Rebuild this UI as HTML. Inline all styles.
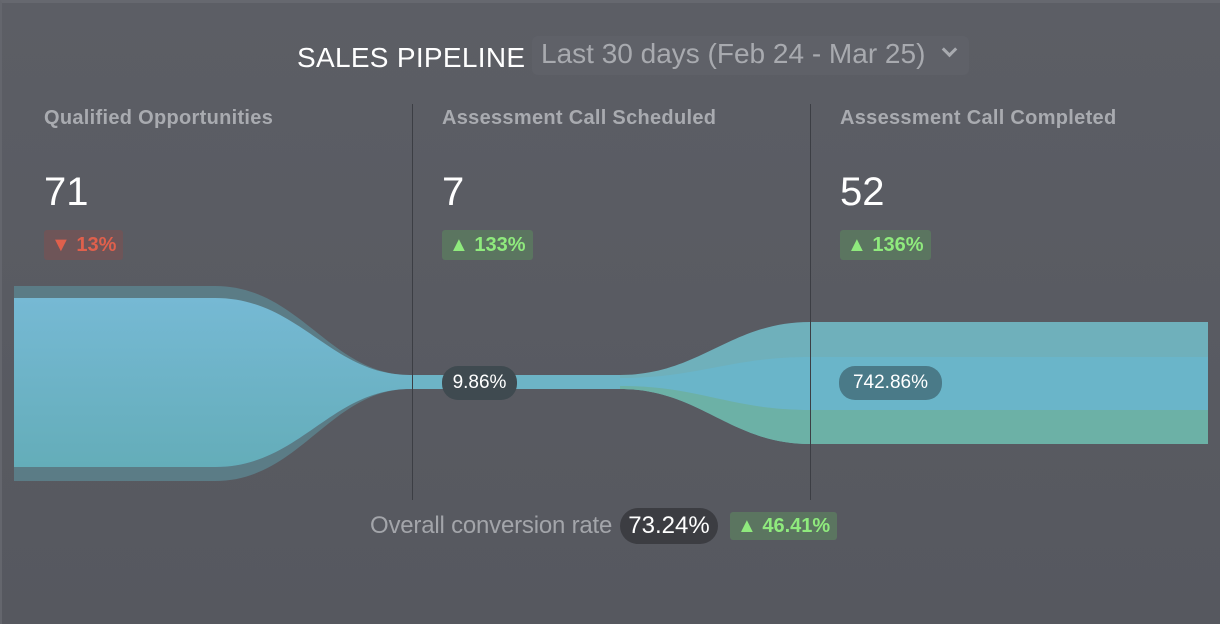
<!DOCTYPE html>
<html><head><style>
html,body{margin:0;padding:0;}
body{width:1220px;height:624px;overflow:hidden;background:linear-gradient(180deg,#5c5e65 0%,#595b62 50%,#56585f 100%);font-family:"Liberation Sans",sans-serif;position:relative;}
.frame{position:absolute;left:0;top:0;border-left:2px solid #64666d;border-top:3px solid #66686f;box-sizing:border-box;width:1220px;height:624px;}
.t{position:absolute;white-space:nowrap;}
.lab{font-weight:bold;font-size:20px;letter-spacing:0.3px;color:#a9abb0;top:107px;}
.num{font-size:40px;color:#fff;top:170px;}
.bad{position:absolute;top:230px;height:30px;border-radius:3px;font-weight:bold;font-size:20px;line-height:30px;padding:0 7px;}
.red{background:#6e5558;color:#e0604c;}
.grn{background:#5b7560;color:#8fea7d;}
.pill{position:absolute;border-radius:16px;color:#fff;font-size:19px;text-align:center;}
</style></head><body>
<div class="frame"></div>
<svg width="1220" height="624" style="position:absolute;left:0;top:0">
<defs>
<linearGradient id="g1" x1="0" y1="0" x2="0" y2="1"><stop offset="0" stop-color="#76b9d4"/><stop offset="1" stop-color="#64adb9"/></linearGradient>
</defs>
<path d="M14,286 L215,286 C300,286 330,375 410,375 L410,389 C330,389 300,481 215,481 L14,481 Z" fill="#5b7c86"/>
<path d="M14,467 L215,467 C300,467 330,389 410,389 L410,380 L14,380 Z" fill="#53708c"/>
<path d="M14,298 L215,298 C300,298 330,375 410,375 L410,389 C330,389 300,467 215,467 L14,467 Z" fill="url(#g1)"/>
<rect x="410" y="375" width="210" height="14" fill="#6db4c6"/>
<path d="M620,375 C700,375 730,322 810,322 L1208,322 L1208,444 L810,444 C730,444 700,389 620,389 Z" fill="#6fb0bb"/>
<path d="M620,378 C700,378 730,357 810,357 L1208,357 L1208,410 L810,410 C730,410 700,386 620,386 Z" fill="#6ab5c9"/>
<path d="M620,386 C700,386 730,410 810,410 L1208,410 L1208,444 L810,444 C730,444 700,389 620,389 Z" fill="#6cb1a6"/>
<line x1="412.5" y1="104" x2="412.5" y2="500" stroke="#3c3e44" stroke-width="1"/>
<line x1="810.5" y1="104" x2="810.5" y2="500" stroke="#3c3e44" stroke-width="1"/>
</svg>
<div class="t" style="left:297px;top:42px;font-size:28px;letter-spacing:0.3px;color:#fff;">SALES PIPELINE</div>
<div style="position:absolute;left:532px;top:36px;width:437px;height:39px;border-radius:6px;background:#5f6168;"></div>
<div class="t" style="left:541px;top:38px;font-size:28px;color:#a8aaaf;">Last 30 days (Feb 24 - Mar 25)</div>
<div style="position:absolute;left:944px;top:44px;width:8px;height:8px;border-right:3px solid #a8aaaf;border-bottom:3px solid #a8aaaf;transform:rotate(45deg);"></div>
<div class="t lab" style="left:44px">Qualified Opportunities</div>
<div class="t lab" style="left:442px">Assessment Call Scheduled</div>
<div class="t lab" style="left:840px">Assessment Call Completed</div>
<div class="t num" style="left:44px">71</div>
<div class="t num" style="left:442px">7</div>
<div class="t num" style="left:840px">52</div>
<div class="bad red" style="left:44px">▼ 13%</div>
<div class="bad grn" style="left:442px">▲ 133%</div>
<div class="bad grn" style="left:840px">▲ 136%</div>
<div class="pill" style="left:442px;top:366px;width:75px;height:34px;line-height:34px;background:#3f4a50;">9.86%</div>
<div class="pill" style="left:839px;top:366px;width:103px;height:34px;line-height:34px;background:#4a7a88;">742.86%</div>
<div class="t" style="left:370px;top:512px;font-size:24px;letter-spacing:-0.2px;color:#a3a5aa;">Overall conversion rate</div>
<div class="pill" style="left:620px;top:508px;width:98px;height:36px;line-height:36px;background:#3c3d42;font-size:24px;border-radius:18px;">73.24%</div>
<div class="bad grn" style="left:730px;top:512px;height:28px;line-height:28px;font-size:20px;">▲ 46.41%</div>
</body></html>
